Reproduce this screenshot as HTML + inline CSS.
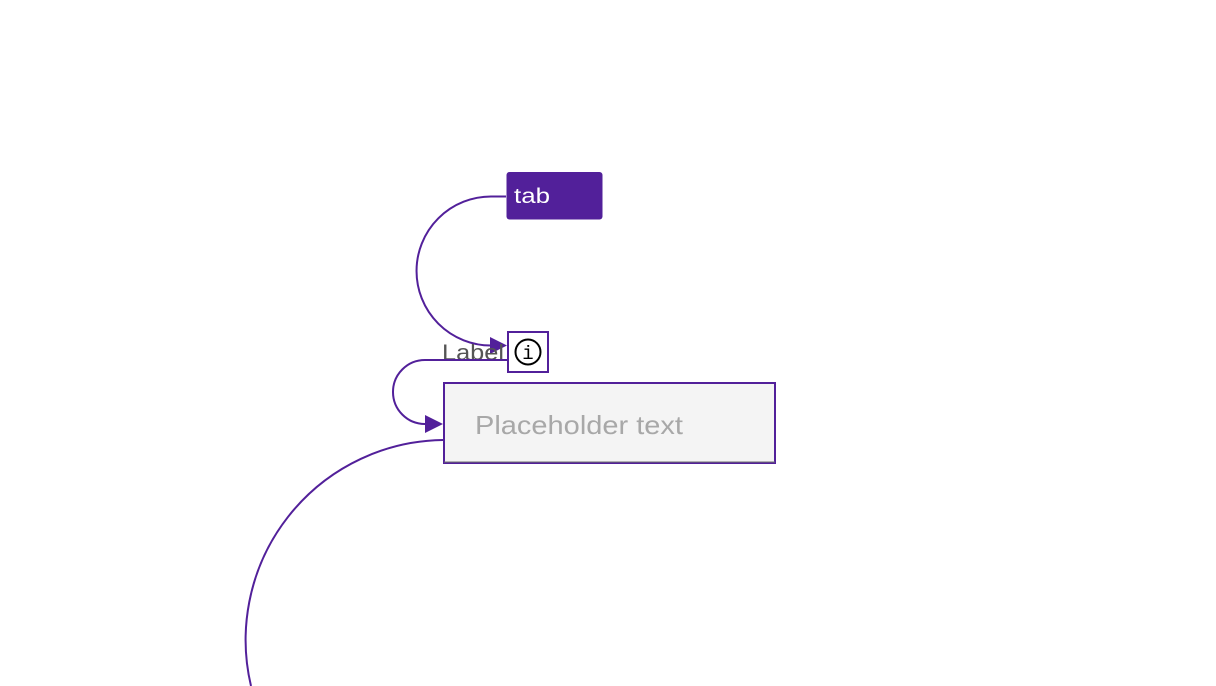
<!DOCTYPE html>
<html><head><meta charset="utf-8"><style>
html,body{margin:0;padding:0;background:#fff;width:1216px;height:686px;overflow:hidden}
</style></head><body>
<svg width="1216" height="686" viewBox="0 0 1216 686" xmlns="http://www.w3.org/2000/svg" style="position:absolute;left:0;top:0">
<rect x="506.5" y="172" width="96" height="47.5" rx="3" fill="#52209a"/>
<text x="514" y="203" font-family="Liberation Sans, sans-serif" font-size="21" fill="#fff" textLength="36" lengthAdjust="spacingAndGlyphs">tab</text>
<path d="M506 196.5 H491 A74.5 74.5 0 0 0 491 345.5 H494" fill="none" stroke="#52209a" stroke-width="2"/>
<polygon points="490,337 507,345.5 490,354" fill="#52209a"/>
<text x="442" y="360" font-family="Liberation Sans, sans-serif" font-size="22" fill="#555" textLength="62" lengthAdjust="spacingAndGlyphs">Label</text>
<rect x="508" y="332" width="40" height="40" fill="#fff" stroke="#52209a" stroke-width="2"/>
<circle cx="528" cy="352" r="12.5" fill="none" stroke="#000" stroke-width="2"/>
<text x="528" y="359" text-anchor="middle" font-family="Liberation Mono, monospace" font-size="19" fill="#000">i</text>
<path d="M507 360 H425 A32 32 0 0 0 425 424 H428" fill="none" stroke="#52209a" stroke-width="2"/>
<polygon points="425,415 443,424 425,433" fill="#52209a"/>
<rect x="444" y="383" width="331" height="80" fill="#f4f4f4" stroke="#52209a" stroke-width="2"/>
<line x1="444" y1="462" x2="775" y2="462" stroke="#6f6f6f" stroke-width="1"/>
<text x="475" y="434" font-family="Liberation Sans, sans-serif" font-size="26" fill="#a8a8a8" textLength="208" lengthAdjust="spacingAndGlyphs">Placeholder text</text>
<path d="M443 440 A200 200 0 0 0 251 686" fill="none" stroke="#52209a" stroke-width="2"/>
</svg>
</body></html>
